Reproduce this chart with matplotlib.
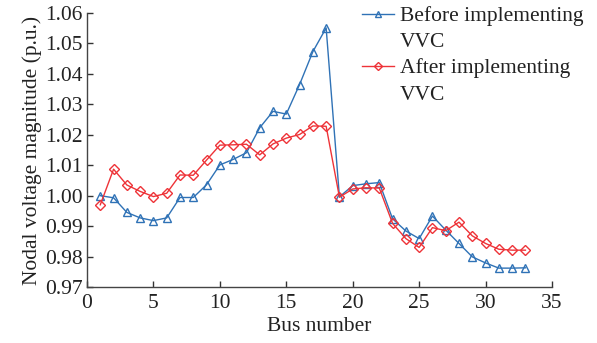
import numpy as np
import matplotlib.pyplot as plt
from matplotlib.lines import Line2D

plt.rcParams['font.family'] = ['Liberation Serif', 'DejaVu Serif']

bus = np.arange(1, 34)
before_vvc = [1.0000, 0.9993, 0.9945, 0.9927, 0.9918, 0.9927, 0.9994, 0.9994,
              1.0036, 1.0101, 1.0119, 1.0141, 1.0223, 1.0277, 1.0268, 1.0365,
              1.0473, 1.0551, 0.9996, 1.0033, 1.0039, 1.0043, 0.9924, 0.9884,
              0.9859, 0.9933, 0.9887, 0.9843, 0.9799, 0.9779, 0.9762, 0.9762,
              0.9763]
after_vvc = [0.9970, 1.0087, 1.0035, 1.0014, 0.9997, 1.0008, 1.0068, 1.0067,
             1.0117, 1.0166, 1.0167, 1.0169, 1.0134, 1.0170, 1.0189, 1.0201,
             1.0229, 1.0228, 0.9995, 1.0022, 1.0026, 1.0025, 0.9909, 0.9859,
             0.9830, 0.9895, 0.9885, 0.9913, 0.9868, 0.9843, 0.9824, 0.9821,
             0.9821]
legend_lines = ['Before implementing', 'VVC', 'After implementing', 'VVC']
xticks = [0, 5, 10, 15, 20, 25, 30, 35]
yticks = [0.97, 0.98, 0.99, 1.00, 1.01, 1.02, 1.03, 1.04, 1.05, 1.06]

blue = '#2f72b6'
red = '#ee3338'
fs = 15.5

fig = plt.figure(figsize=(5.97, 3.43), dpi=100)
ax = fig.add_axes([87 / 597, 1 - 287 / 343, (552 - 87) / 597, (287 - 13) / 343])

ax.plot(bus, before_vvc, color=blue, lw=1.0, marker='^', ms=6,
        mfc='none', mec=blue, mew=1.0)
ax.plot(bus, after_vvc, color=red, lw=1.0, marker='D', ms=4.8,
        mfc='none', mec=red, mew=1.0)

ax.set_xlim(0, 35)
ax.set_ylim(0.97, 1.06)
ax.set_xticks(xticks)
ax.set_yticks(yticks)
ax.set_yticklabels(['%.2f' % v for v in yticks])
ax.tick_params(direction='in', length=4, width=1, labelsize=fs,
               colors='#333333', labelcolor='#222222')
ax.tick_params(axis='y', pad=3)
ax.tick_params(axis='x', pad=5)
for s in ['top', 'right']:
    ax.spines[s].set_visible(False)
for s in ['left', 'bottom']:
    ax.spines[s].set_color('#444444')
    ax.spines[s].set_linewidth(1.0)

ax.set_xlabel('Bus number', fontsize=fs, color='#222222', labelpad=3)
ax.set_ylabel('Nodal voltage magnitude (p.u.)', fontsize=fs,
              color='#222222', labelpad=2)

# legend with the wrapped second lines as handle-less entries
blank = Line2D([], [], color='none')
h1 = Line2D([], [], color=blue, lw=1.0, marker='^', ms=5, mfc='none', mec=blue)
h2 = Line2D([], [], color=red, lw=1.0, marker='D', ms=4, mfc='none', mec=red)
leg = fig.legend([h1, blank, h2, blank], legend_lines, loc='upper left',
                 bbox_to_anchor=(360 / 597, 1 - 4 / 343), frameon=False,
                 fontsize=fs, handlelength=1.5, handletextpad=0.25,
                 labelspacing=0.28, borderpad=0.1, borderaxespad=0.0)
for t in leg.get_texts():
    t.set_color('#222222')

fig.savefig('out.png', dpi=100)
